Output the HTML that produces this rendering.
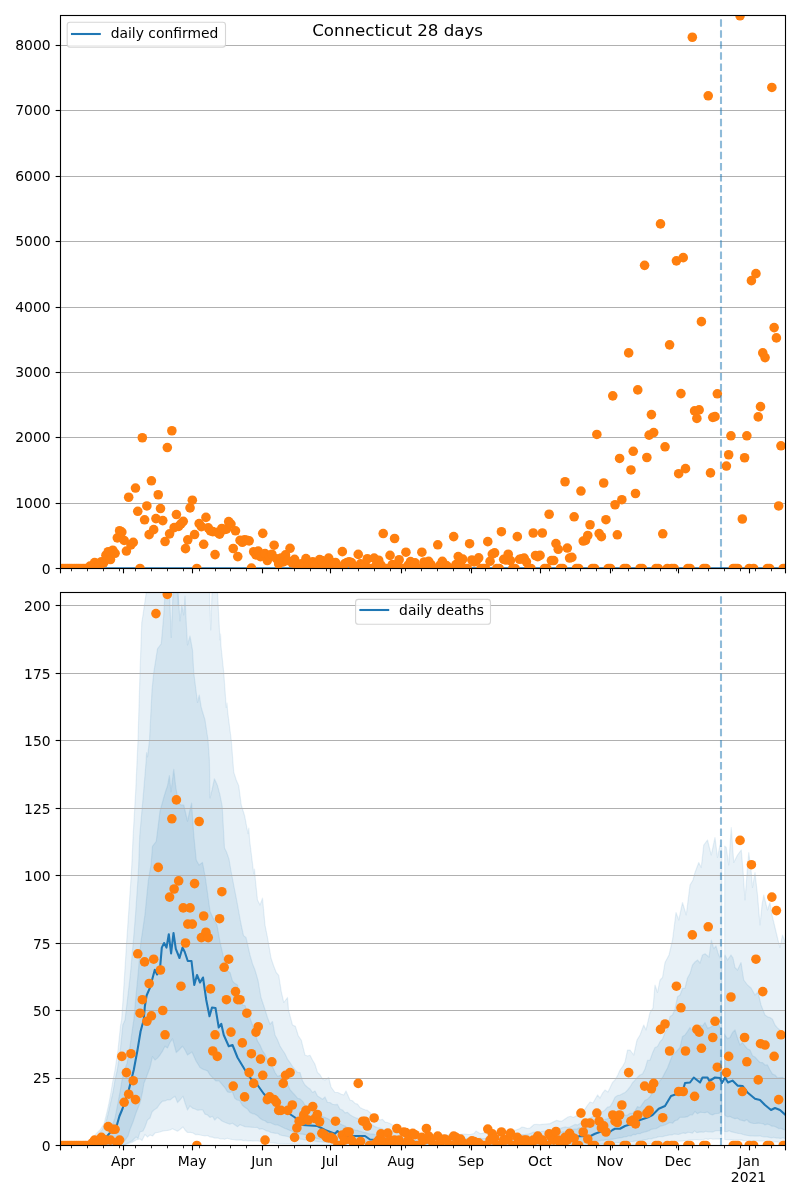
<!DOCTYPE html>
<html lang="en"><head><meta charset="utf-8"><title>Connecticut 28 days</title>
<style>html,body{margin:0;padding:0;background:#fff}svg{display:block}text{font-family:"DejaVu Sans","Liberation Sans",sans-serif;fill:#000}</style></head><body>
<svg width="800" height="1200" viewBox="0 0 800 1200">
<rect x="0" y="0" width="800" height="1200" fill="#fff"/>
<defs><clipPath id="ct"><rect x="60.5" y="15.5" width="725.0" height="553.0"/></clipPath><clipPath id="cb"><rect x="60.5" y="592.5" width="725.0" height="553.0"/></clipPath></defs>
<g clip-path="url(#cb)">
<polygon points="60.5,1145.5 62.79,1145.46 65.08,1145.41 67.38,1145.37 69.67,1145.34 71.96,1145.3 74.25,1145.25 76.54,1145.21 78.83,1145.18 81.12,1145.12 83.42,1145.08 85.71,1145.03 88,1145 90.33,1141.74 92.67,1138.33 95,1135 97.5,1132.52 100,1130 104,1124 107,1112 109,1103 111,1092 113,1080 115,1070 118,1050 120.6,1025 121.6,1020 123,1000 126.6,943 130.9,880 131.8,865 133.1,836 135.75,790 138,740 140,672.5 141.75,622.5 143,615 146.25,592.5 147.5,560 177,560 177.3,592 178,605 178.7,592 179,560 209.2,560 209.5,592 210.75,630 212,592 212.3,560 217,560 217.5,592.5 220,640 220.5,634 221,646 223.75,672.5 226.25,707.5 227,703 227.7,712 231.25,740 233.75,772.19 236.25,780 238.75,785.85 241.25,805 244.62,815.71 248,833.75 248.8,828 249.6,840 253.75,873.75 254.5,869 255.3,879 257.5,900 260,905 262.5,898.15 265,925.11 267.5,937.5 271,958 273.62,965.8 276.25,972.5 278.75,975.47 281.25,991.44 283.75,1002.5 287.5,997.5 288.5,1010 292.5,1025 295.42,1026.33 298.33,1035.85 301.25,1040 305,1055 307.5,1055.99 310,1055.21 312.5,1060 315,1064.32 317.5,1072.5 320,1074.68 322.5,1079.05 325,1080 328.75,1077.5 331,1087 335,1092.5 337.92,1092.52 340.83,1094.03 343.75,1095 346,1091 350,1100 352.5,1100.77 355,1103.43 357.5,1104.11 360,1107.5 362.5,1108.79 365,1109.75 367.5,1110.45 370,1112.5 372.5,1115.09 375,1116.5 377.5,1118.41 380,1120 382.5,1119.3 385,1122.05 387.5,1122.49 390,1123.53 392.5,1125 395,1126.12 397.5,1127.6 400,1127.41 402.5,1129.14 405,1130 407.27,1130.08 409.55,1131.31 411.82,1131.49 414.09,1131.22 416.36,1131.61 418.64,1133.08 420.91,1133.53 423.18,1133.65 425.45,1133.8 427.73,1134.48 430,1135 432.5,1134.83 435,1135.1 437.5,1134.59 440,1134.33 442.5,1134.79 445,1134.95 447.5,1134.74 450,1134.5 452.5,1134.12 455,1134.74 457.5,1134.27 460,1134.4 462.5,1134.11 465,1134 467.5,1134.31 470,1134.5 474,1133.5 476,1131 480,1133.6 482.5,1133.32 485,1132.4 487.5,1132.59 490,1132.5 492.5,1131.76 495,1132.29 497.5,1132.26 500,1132 502.29,1131.53 504.57,1132.08 506.86,1131.15 509.14,1130.78 511.43,1130.96 513.71,1130.04 516,1130 520,1128.5 522,1127 524.67,1127.55 527.33,1128.49 530,1128 534,1124.5 536.75,1124.47 539.5,1124.69 542.25,1124.36 545,1124 547.5,1123.87 550,1123.6 554,1121.6 556.67,1120.34 559.33,1121.11 562,1121 565,1119.02 568,1117 570.67,1116.27 573.33,1117.44 576,1116 579,1112.63 582,1112 584.5,1109.83 587,1106 590,1102 593,1103 597.5,1095 600,1098 602.5,1093.21 605,1090 608,1092 612.5,1082.5 615,1079.92 617.5,1075.63 620,1070 622.5,1066.66 625,1062 627.5,1050.06 630,1050 633.75,1055 637,1040 640,1035 643.75,1025 646,1030 650,1012.5 653,1008 655,985 657.5,992.5 660,980 662.5,977.5 665,962.5 669,955 672.5,940 676,912.5 678.75,920 682.5,902.5 686.25,915 690,885 693,880 695,872.5 698.75,862.5 701.25,867.5 703.75,845 707.5,840 711.25,855 715,837.5 717.5,857.5 720,845 721.7,848 721.7,1139 718.35,1139.05 715,1139 712.73,1139.27 710.45,1138.53 708.18,1139.39 705.91,1138.73 703.64,1139.5 701.36,1139.79 699.09,1139.8 696.82,1139.64 694.55,1139.52 692.27,1140.05 690,1140 687.73,1140.45 685.45,1140.49 683.18,1140.93 680.91,1141.06 678.64,1141.17 676.36,1141.38 674.09,1141.87 671.82,1142.03 669.55,1141.85 667.27,1141.94 665,1142.5 662.73,1142.67 660.45,1142.9 658.18,1143.27 655.91,1143.41 653.64,1143.56 651.36,1143.91 649.09,1143.99 646.82,1144.29 644.55,1144.5 642.27,1144.71 640,1145 637.71,1144.95 635.43,1145.03 633.14,1144.99 630.86,1144.98 628.57,1144.96 626.29,1144.99 624,1144.98 621.71,1145.02 619.43,1145 617.14,1144.97 614.86,1145.02 612.57,1144.98 610.29,1144.98 608,1144.98 605.71,1144.99 603.43,1144.95 601.14,1145 598.86,1144.97 596.57,1145.01 594.29,1145.01 592,1145 589.71,1145.04 587.43,1145.02 585.14,1144.99 582.86,1144.99 580.57,1144.99 578.29,1144.98 576,1145.02 573.71,1145 571.43,1145.01 569.14,1144.99 566.86,1145.02 564.57,1145.01 562.29,1144.95 560,1144.94 557.71,1144.98 555.43,1144.96 553.14,1145.01 550.86,1145 548.57,1145.02 546.29,1144.98 544,1145 541.71,1144.99 539.43,1144.98 537.14,1145.01 534.86,1145 532.57,1144.99 530.29,1145.01 528,1145 525.71,1144.99 523.43,1144.98 521.14,1145.02 518.86,1145.01 516.57,1145 514.29,1145.02 512,1145.02 509.71,1144.96 507.43,1145 505.14,1144.97 502.86,1145 500.57,1145.02 498.29,1144.93 496,1145 493.71,1145.04 491.43,1144.98 489.14,1144.96 486.86,1145 484.57,1144.98 482.29,1144.99 480,1144.99 477.71,1145 475.43,1144.96 473.14,1145.01 470.86,1145.01 468.57,1145 466.29,1144.98 464,1145 461.71,1145.01 459.43,1145.01 457.14,1145.02 454.86,1145.01 452.57,1144.99 450.29,1144.98 448,1144.97 445.71,1145.01 443.43,1145.01 441.14,1145 438.86,1145.01 436.57,1145.02 434.29,1144.97 432,1145.02 429.71,1144.96 427.43,1145.03 425.14,1145 422.86,1144.99 420.57,1144.97 418.29,1144.98 416,1144.98 413.71,1145.02 411.43,1145.02 409.14,1144.99 406.86,1144.97 404.57,1145 402.29,1144.98 400,1144.99 397.71,1145 395.43,1144.96 393.14,1144.98 390.86,1145.01 388.57,1144.99 386.29,1145 384,1144.98 381.71,1144.99 379.43,1144.95 377.14,1144.96 374.86,1144.94 372.57,1144.96 370.29,1144.98 368,1144.99 365.71,1144.97 363.43,1144.98 361.14,1145.03 358.86,1144.94 356.57,1144.98 354.29,1145.01 352,1144.99 349.71,1144.98 347.43,1144.97 345.14,1144.94 342.86,1144.99 340.57,1145.01 338.29,1145.01 336,1145.01 333.71,1145 331.43,1145.01 329.14,1144.98 326.86,1145.03 324.57,1144.98 322.29,1145 320,1145 317.65,1144.93 315.29,1144.86 312.94,1144.84 310.59,1144.68 308.24,1144.64 305.88,1144.6 303.53,1144.51 301.18,1144.41 298.82,1144.39 296.47,1144.28 294.12,1144.07 291.76,1144.14 289.41,1143.98 287.06,1143.99 284.71,1143.83 282.35,1143.86 280,1143.75 277.73,1143.51 275.45,1143.13 273.18,1142.98 270.91,1142.86 268.64,1142.52 266.36,1142.36 264.09,1142.26 261.82,1141.84 259.55,1141.28 257.27,1140.83 255,1141 252.68,1141.05 250.36,1140.68 248.04,1140.86 245.71,1140.31 243.39,1140.62 241.07,1139.94 238.75,1140.12 236.43,1140.04 234.11,1139.54 231.79,1139.42 229.46,1139.02 227.14,1138.22 224.82,1139.32 222.5,1138.75 220,1138.79 217.5,1137.85 215,1138.12 212.5,1137.15 210,1137.02 207.5,1135.47 205,1136.03 202.5,1135.52 200,1135 197.67,1134.43 195.33,1134.6 193,1133 190.25,1132.38 187.5,1132.5 185,1130 183,1127 180,1129.5 177.5,1131.25 175,1130 172.5,1128.75 170,1130 167.5,1130.43 165,1130.6 162.5,1131.11 160,1132 157.5,1132.49 155,1133 152.5,1136 150,1135 147.5,1137 145,1134.5 142,1140.5 140,1139 136,1140 132,1142.5 129.67,1143.28 127.33,1144.1 125,1144.8 122.69,1144.77 120.38,1144.9 118.06,1144.89 115.75,1144.94 113.44,1144.95 111.12,1144.98 108.81,1145.01 106.5,1145.06 104.19,1145.09 101.88,1145.08 99.56,1145.17 97.25,1145.18 94.94,1145.2 92.62,1145.25 90.31,1145.27 88,1145.3 85.71,1145.32 83.42,1145.34 81.12,1145.36 78.83,1145.37 76.54,1145.39 74.25,1145.41 71.96,1145.41 69.67,1145.43 67.38,1145.45 65.08,1145.47 62.79,1145.48 60.5,1145.5" fill="#1f77b4" fill-opacity="0.1" stroke="#1f77b4" stroke-opacity="0.1" stroke-width="1.2" stroke-linejoin="round"/>
<polygon points="724.7,846 726.25,847.5 728.75,865 731.25,827.5 733.75,862.5 737.5,855 741.25,850 743,870 745,900 746.5,880 748.75,852.5 751,870 752.5,887.5 755,872.5 757.5,895 760,925 762,905 763.75,895 767.5,910 770,902.5 772,915 775,927.5 778,940 780,947.5 782.5,935 785.5,942.5 785.5,1142.5 783.16,1142.33 780.82,1142.5 778.48,1142.18 776.15,1141.77 773.81,1141.99 771.47,1141.89 769.13,1141.65 766.79,1141.8 764.45,1141.25 762.12,1140.8 759.78,1141.1 757.44,1141.01 755.1,1140.94 752.76,1140.92 750.42,1140.9 748.08,1140.78 745.75,1140.52 743.41,1140.58 741.07,1139.82 738.73,1140.06 736.39,1139.78 734.05,1139.84 731.72,1139.94 729.38,1139.57 727.04,1139.6 724.7,1139.5" fill="#1f77b4" fill-opacity="0.1" stroke="#1f77b4" stroke-opacity="0.1" stroke-width="1.2" stroke-linejoin="round"/>
<polygon points="60.5,1145.5 62.92,1145.48 65.35,1145.45 67.77,1145.43 70.19,1145.41 72.62,1145.38 75.04,1145.37 77.46,1145.33 79.88,1145.31 82.31,1145.28 84.73,1145.27 87.15,1145.24 89.58,1145.22 92,1145.2 95,1140.17 98,1135 102,1130 105.5,1124 108.5,1112 110.5,1103 113,1092 115,1080 117.3,1070 120.3,1050 122.8,1025 125,1020 127.4,1000 130.3,975 133.2,943 135.5,915 137.9,880 138.7,865 139.7,836 143.75,790 146.2,760 146.6,752.5 147.5,757 149.5,740 152,690 153.75,672.5 157.5,648.75 161.25,643.75 163.75,615 165,592.5 165.5,560 169.3,560 169.5,592.5 171.25,637.5 173,592.5 173.2,560 177.8,560 178,592.5 180,621 181.75,605 183.75,615 185,596 186.25,622.5 187.5,645 190,636 192.5,650 193.75,672.5 197.5,702.5 199.25,695 201.25,707.5 205,720 208,740 209.4,760 210,798 212,790 214.4,778.75 217.5,785.6 219.85,794.4 222.2,806.25 223.5,830 224.5,848 226.5,852 229,859 231,871 233.5,884 237,902 241,924 243.5,935.61 246,937.5 250,955 252.5,963.67 255,970 258,980.37 261,997.5 264.25,1007.26 267.5,1017.5 270,1024.24 272.5,1021.53 275,1035 277.5,1039.82 280,1046.06 282.5,1050 285,1053.73 287.5,1059.15 290,1062.5 292.5,1066.39 295,1069.65 297.5,1072.5 300,1072.48 302.5,1080.79 305,1085 307.5,1087.19 310,1088.88 312.5,1092.5 315,1091.06 317.5,1096.03 320,1097.5 322.5,1099.27 325,1097 327.5,1102.41 330,1102.5 332.5,1104.27 335,1104.7 337.5,1104.46 340,1109.13 342.5,1110 345,1112.85 347.5,1112.35 350,1114.79 352.5,1116.21 355,1117.5 357.5,1118.38 360,1119.83 362.5,1121.04 365,1122.68 367.5,1122.91 370,1125 372.5,1124.95 375,1126.65 377.5,1127.65 380,1127.96 382.5,1128.93 385,1130 387.5,1130.9 390,1131.37 392.5,1131.45 395,1132.52 397.5,1133.2 400,1133.68 402.5,1134.38 405,1135 407.27,1135.27 409.55,1135.89 411.82,1135.31 414.09,1136.03 416.36,1136.51 418.64,1136.38 420.91,1136.83 423.18,1137.18 425.45,1137.2 427.73,1137.21 430,1138 432.35,1137.91 434.71,1137.7 437.06,1137.61 439.41,1138.25 441.76,1138.22 444.12,1138.01 446.47,1138.43 448.82,1138.27 451.18,1137.98 453.53,1138.07 455.88,1138.2 458.24,1138.6 460.59,1137.91 462.94,1138.29 465.29,1138.28 467.65,1138.37 470,1138.5 472.5,1138.72 475,1138.68 477.5,1138.65 480,1138.1 482.5,1138.6 485,1138.5 487.5,1138.36 490,1138.2 492.5,1137.87 495,1137.72 497.5,1137.6 500,1137.5 502.5,1137.38 505,1137.22 507.5,1136.52 510,1136.18 512.5,1135.58 515,1135.64 517.5,1135.42 520,1135 522.27,1134.5 524.55,1134.59 526.82,1134.13 529.09,1133.76 531.36,1133.08 533.64,1132.02 535.91,1132.16 538.18,1131.63 540.45,1131.63 542.73,1131.25 545,1131 547.27,1130.76 549.55,1130.35 551.82,1130.53 554.09,1129.89 556.36,1129.56 558.64,1128.4 560.91,1128.12 563.18,1127.49 565.45,1126.9 567.73,1127.46 570,1127 572.5,1125.69 575,1124.43 577.5,1124.9 580,1123.51 582.5,1123.5 585,1121.74 587.5,1120.58 590,1118 592.5,1116.65 595,1115.5 597.5,1114.59 600,1112.64 602.5,1111.66 605,1110 607.5,1107.14 610,1106.56 612.5,1102.5 615,1097.16 617.5,1095.54 620,1095 622.5,1093.66 625,1092.55 627.5,1090 630,1086.99 632.5,1082.75 635,1080.18 637.5,1077.19 640,1075 642.5,1073.88 645,1069.09 647.5,1060.45 650,1060 652.5,1053.09 655,1047.5 657.5,1046.54 660,1041.65 662.5,1039.1 665,1032.5 667.5,1028.85 670,1016.42 672.5,1015 675,1008.88 677.5,996.78 680,995 682.5,988.44 685,988.1 687.5,978 690,973.56 692.5,965 695,962 697.5,960 700,963 702.5,955 705,953.75 709,957 711.38,940.16 713.75,948.75 716,946 718,953 720,958 721.7,958 721.7,1131 718.35,1130.48 715,1131 712.73,1132.08 710.45,1131.85 708.18,1131.79 705.91,1131.32 703.64,1132.27 701.36,1131.94 699.09,1132.14 696.82,1132.65 694.55,1130.85 692.27,1133.23 690,1132.5 687.73,1132.35 685.45,1133.43 683.18,1132.96 680.91,1133.58 678.64,1134.52 676.36,1134.25 674.09,1134.03 671.82,1135 669.55,1134.99 667.27,1135.46 665,1136 662.73,1136.61 660.45,1136.53 658.18,1136.85 655.91,1137.73 653.64,1138.11 651.36,1138.84 649.09,1138.85 646.82,1139.41 644.55,1139.91 642.27,1140.43 640,1141 637.65,1141.13 635.29,1141.1 632.94,1141.42 630.59,1141.5 628.24,1141.88 625.88,1142.1 623.53,1142.27 621.18,1142.51 618.82,1142.63 616.47,1142.77 614.12,1142.9 611.76,1143.13 609.41,1143.33 607.06,1143.32 604.71,1143.65 602.35,1143.68 600,1144 597.73,1143.99 595.45,1144.02 593.18,1144.01 590.91,1143.98 588.64,1144.07 586.36,1144.07 584.09,1143.97 581.82,1143.93 579.55,1144.06 577.27,1144.04 575,1144.07 572.73,1143.99 570.45,1144.1 568.18,1144.04 565.91,1144.09 563.64,1144.06 561.36,1144.1 559.09,1144.05 556.82,1144.06 554.55,1144 552.27,1144.01 550,1144.14 547.73,1144.17 545.45,1144.12 543.18,1144.17 540.91,1144.09 538.64,1144.03 536.36,1144.05 534.09,1144.23 531.82,1144.19 529.55,1144.2 527.27,1144.13 525,1144.23 522.73,1144.07 520.45,1144.15 518.18,1144.13 515.91,1144.12 513.64,1144.13 511.36,1144.26 509.09,1144.27 506.82,1144.2 504.55,1144.32 502.27,1144.19 500,1144.18 497.73,1144.27 495.45,1144.27 493.18,1144.28 490.91,1144.29 488.64,1144.21 486.36,1144.23 484.09,1144.26 481.82,1144.25 479.55,1144.3 477.27,1144.35 475,1144.38 472.73,1144.3 470.45,1144.35 468.18,1144.36 465.91,1144.21 463.64,1144.29 461.36,1144.36 459.09,1144.34 456.82,1144.26 454.55,1144.42 452.27,1144.31 450,1144.31 447.73,1144.36 445.45,1144.29 443.18,1144.39 440.91,1144.41 438.64,1144.4 436.36,1144.41 434.09,1144.49 431.82,1144.39 429.55,1144.39 427.27,1144.46 425,1144.45 422.73,1144.47 420.45,1144.46 418.18,1144.41 415.91,1144.53 413.64,1144.51 411.36,1144.5 409.09,1144.46 406.82,1144.45 404.55,1144.51 402.27,1144.49 400,1144.5 397.67,1144.47 395.33,1144.34 393,1144.35 390.67,1144.33 388.33,1144.19 386,1144.13 383.67,1144.15 381.33,1144.05 379,1144.15 376.67,1143.96 374.33,1143.97 372,1143.83 369.67,1143.77 367.33,1143.78 365,1143.74 362.67,1143.69 360.33,1143.75 358,1143.64 355.67,1143.55 353.33,1143.48 351,1143.47 348.67,1143.37 346.33,1143.45 344,1143.38 341.67,1143.21 339.33,1143.13 337,1143.28 334.67,1143.23 332.33,1143.12 330,1143 327.73,1142.75 325.45,1142.14 323.18,1142.19 320.91,1141.78 318.64,1141.75 316.36,1141.37 314.09,1141.01 311.82,1140.59 309.55,1140 307.27,1139.7 305,1140 302.73,1139.34 300.45,1139.23 298.18,1138.76 295.91,1138.32 293.64,1137 291.36,1137.54 289.09,1136.87 286.82,1136.35 284.55,1135.95 282.27,1135.47 280,1135 277.73,1133.23 275.45,1133.34 273.18,1132.92 270.91,1132.49 268.64,1131.17 266.36,1131.02 264.09,1129.47 261.82,1128.67 259.55,1129.28 257.27,1127.41 255,1127.5 252.5,1127.31 250,1127.08 247.5,1126.85 245,1126.64 242.5,1125.77 240,1124.7 237.5,1126.64 235,1125 232.4,1123.2 229.8,1124.21 227.2,1123.25 224.6,1122.26 222,1121 219.6,1119.02 217.2,1117.29 214.8,1120.09 212.4,1116.3 210,1117.5 207.5,1114.96 205,1114.13 202.5,1109.74 200,1110 197.5,1110.17 195,1109 192.5,1108.13 190,1106 187.5,1110 185,1103 183,1096.25 180,1100 177.5,1102.5 175,1096.25 172.5,1098 170,1100 167.5,1099.67 165,1101 162.5,1101.19 160,1103.75 157,1108.06 154,1110 152,1112 150,1118 147.5,1120 145,1127 143,1131 140,1132 138,1138.5 136,1137 132,1141 129.67,1142.11 127.33,1143.23 125,1144.5 122.64,1144.49 120.29,1144.63 117.93,1144.65 115.57,1144.76 113.21,1144.77 110.86,1144.86 108.5,1144.89 106.14,1144.92 103.79,1145 101.43,1145.08 99.07,1145.14 96.71,1145.2 94.36,1145.24 92,1145.3 89.58,1145.3 87.15,1145.33 84.73,1145.34 82.31,1145.37 79.88,1145.37 77.46,1145.4 75.04,1145.41 72.62,1145.42 70.19,1145.44 67.77,1145.45 65.35,1145.47 62.92,1145.48 60.5,1145.5" fill="#1f77b4" fill-opacity="0.1" stroke="#1f77b4" stroke-opacity="0.1" stroke-width="1.2" stroke-linejoin="round"/>
<polygon points="724.7,957 725,955 727.5,960 731,955 733,958 735,967.5 737.5,970 741,962.5 743.75,980 747.5,985 751,988 755,995 758,992 761,1005 765,1015 767.5,1016.85 770,1017.5 772.5,1019.34 775,1025 777.5,1027.98 780,1030 782.75,1033.14 785.5,1035 785.5,1138.75 783.14,1137.79 780.79,1138.39 778.43,1138.04 776.07,1138.04 773.71,1137.31 771.36,1138 769,1137.33 766.64,1136.85 764.29,1136.82 761.93,1136.52 759.57,1135.8 757.21,1136.09 754.86,1136.04 752.5,1136 750.18,1135.96 747.87,1135.52 745.55,1135.1 743.23,1134.5 740.92,1133.74 738.6,1133.52 736.28,1132.98 733.97,1132.3 731.65,1131.92 729.33,1130.79 727.02,1131.62 724.7,1131.5" fill="#1f77b4" fill-opacity="0.1" stroke="#1f77b4" stroke-opacity="0.1" stroke-width="1.2" stroke-linejoin="round"/>
<polygon points="60.5,1145.5 62.82,1145.48 65.15,1145.46 67.47,1145.45 69.79,1145.43 72.12,1145.41 74.44,1145.39 76.76,1145.38 79.09,1145.36 81.41,1145.34 83.74,1145.33 86.06,1145.3 88.38,1145.29 90.71,1145.27 93.03,1145.26 95.35,1145.24 97.68,1145.22 100,1145.2 102.67,1141.46 105.33,1137.62 108,1134 111,1129 115,1118 118.5,1100 120,1092 122,1080 124.5,1070 127,1063.39 129.5,1050 133,1025 133.8,1020 135.6,1000 138,975 140.8,943 144.9,915 148.4,880 151,865 152.5,846.25 156.25,841.25 160,811.25 163.75,797.5 166,790 167.5,786 169.4,775.6 171,792 173.75,769.4 175.5,785 176.25,790 178.75,803.75 181.25,804.92 183.75,805 187.5,821.25 189.5,812 191.6,803.1 192.7,820 193.75,835 196.25,860 199,865 202.5,862.5 205.3,877.5 207.5,893 210,911.25 213,918 217,925 220,942 223,955 226,970 230,972.5 232.5,981.09 235,983.58 237.5,985 240,998.34 242.5,1005 245,1005.51 247.5,1012.39 250,1018.14 252.5,1025 255,1033.18 257.5,1041.09 260,1045 262.5,1050.65 265,1054.45 267.5,1060 270,1064.27 272.5,1066.75 275,1072.5 277.5,1076.28 280,1075.61 282.5,1082.5 285,1083.82 287.5,1084.05 290,1089.59 292.5,1092.5 295,1095.21 297.5,1098.23 300,1098.9 302.5,1101.16 305,1105 307.5,1106.32 310,1107.54 312.5,1109.68 315,1111.26 317.5,1112.5 320,1114.16 322.5,1116.51 325,1117.52 327.5,1118.47 330,1120 332.5,1120.91 335,1121.24 337.5,1122.58 340,1123.73 342.5,1125 345,1125.97 347.5,1127.73 350,1127.98 352.5,1129.26 355,1130 357.27,1130.33 359.55,1131.16 361.82,1131.72 364.09,1132.31 366.36,1132.8 368.64,1133.7 370.91,1134.15 373.18,1133.96 375.45,1134.77 377.73,1135.54 380,1136 382.27,1136.42 384.55,1136.79 386.82,1136.54 389.09,1137.33 391.36,1137.82 393.64,1138.27 395.91,1138.82 398.18,1138.89 400.45,1139.02 402.73,1139.47 405,1140 407.27,1140.14 409.55,1140.42 411.82,1140.65 414.09,1140.72 416.36,1140.94 418.64,1141.18 420.91,1141.07 423.18,1141.52 425.45,1141.67 427.73,1141.96 430,1142 432.27,1141.87 434.55,1142.1 436.82,1142.14 439.09,1142.15 441.36,1142.28 443.64,1142.31 445.91,1142.29 448.18,1142.41 450.45,1142.38 452.73,1142.35 455,1142.43 457.27,1142.42 459.55,1142.5 461.82,1142.49 464.09,1142.66 466.36,1142.69 468.64,1142.83 470.91,1142.83 473.18,1142.9 475.45,1142.91 477.73,1143 480,1143 482.27,1142.84 484.55,1142.54 486.82,1142.63 489.09,1142.4 491.36,1142.26 493.64,1142.23 495.91,1142.06 498.18,1141.94 500.45,1141.72 502.73,1141.68 505,1141.24 507.27,1141.26 509.55,1141.08 511.82,1140.81 514.09,1140.77 516.36,1140.83 518.64,1140.63 520.91,1140.54 523.18,1140.37 525.45,1140.12 527.73,1140.33 530,1140 532.5,1139.56 535,1138.79 537.5,1138.03 540,1137.57 542.5,1136.91 545,1135.95 547.5,1135.43 550,1135 552.5,1134.4 555,1133.82 557.5,1133.46 560,1132.32 562.5,1131.84 565,1131.5 567.5,1130.42 570,1130 572.27,1129.66 574.55,1129.2 576.82,1129.15 579.09,1127.74 581.36,1127.98 583.64,1127.13 585.91,1126.72 588.18,1126.57 590.45,1125.95 592.73,1125.56 595,1125 597.5,1123.87 600,1122.41 602.5,1121.55 605,1119.53 607.5,1118.71 610,1117.5 612.5,1116.9 615,1114.69 617.5,1114.02 620,1112.5 622.5,1112.95 625,1115.41 627.5,1115 630,1113.24 632.5,1113.33 635,1110.83 637.5,1106.59 640,1107.5 642.5,1103.8 645,1100.23 647.5,1099.18 650,1096.6 652.5,1092.5 655,1088.69 657.5,1083.93 660,1080.73 662.5,1077.47 665,1072.5 667.5,1068.05 670,1061.59 672.5,1055 676,1052 680,1047.5 682.5,1036.47 685,1035 687.5,1031.43 690,1027.5 692.5,1030.95 695,1032.5 697.5,1029.47 700,1025 702.5,1026.04 705,1022.5 707.5,1028.08 710,1027.5 712.5,1025.94 715,1025 717.5,1021.65 720,1027.5 721.7,1028 721.7,1112.5 718.35,1113.33 715,1113.75 712.5,1114.88 710,1114.08 707.5,1112.02 705,1112.66 702.5,1112.5 700,1112.13 697.5,1113.74 695,1111.49 692.5,1114.85 690,1115 687.5,1116.69 685,1117.13 682.5,1117.32 680,1117.28 677.5,1120 675,1120.7 672.5,1123.24 670,1122.47 667.5,1123.66 665,1125 662.73,1125.62 660.45,1126.12 658.18,1127.44 655.91,1128.75 653.64,1129.01 651.36,1129.28 649.09,1130.72 646.82,1131.42 644.55,1132.11 642.27,1132.57 640,1133.75 637.73,1133.4 635.45,1134.68 633.18,1134.45 630.91,1136.09 628.64,1135.76 626.36,1136.69 624.09,1136.82 621.82,1137.67 619.55,1137.95 617.27,1138.25 615,1138.75 612.73,1139.22 610.45,1139.31 608.18,1139.79 605.91,1139.63 603.64,1140.34 601.36,1140.31 599.09,1140.83 596.82,1141.12 594.55,1141.53 592.27,1141.48 590,1142 587.69,1142.18 585.38,1142.42 583.08,1142.45 580.77,1142.49 578.46,1142.77 576.15,1142.9 573.85,1143.05 571.54,1143.19 569.23,1143.3 566.92,1143.59 564.62,1143.62 562.31,1143.9 560,1144 557.71,1144.06 555.43,1144.02 553.14,1144.02 550.86,1143.94 548.57,1144.03 546.29,1144.01 544,1144.03 541.71,1143.96 539.43,1144.05 537.14,1144.04 534.86,1144.01 532.57,1143.98 530.29,1144.06 528,1144 525.71,1143.87 523.43,1143.97 521.14,1143.99 518.86,1143.98 516.57,1143.97 514.29,1143.95 512,1143.98 509.71,1144.05 507.43,1144.07 505.14,1144.02 502.86,1144.01 500.57,1144 498.29,1143.95 496,1144.08 493.71,1143.98 491.43,1143.96 489.14,1143.87 486.86,1144.07 484.57,1144.01 482.29,1143.95 480,1144.07 477.71,1144.08 475.43,1143.95 473.14,1144.04 470.86,1143.97 468.57,1144.04 466.29,1144.03 464,1144.04 461.71,1144.04 459.43,1143.96 457.14,1143.97 454.86,1144.06 452.57,1144.05 450.29,1144.04 448,1144.01 445.71,1144.08 443.43,1144.01 441.14,1144 438.86,1144.04 436.57,1143.98 434.29,1144.04 432,1144 429.71,1143.93 427.43,1143.96 425.14,1143.95 422.86,1143.99 420.57,1143.97 418.29,1144 416,1143.93 413.71,1143.99 411.43,1144.01 409.14,1143.94 406.86,1144.08 404.57,1144 402.29,1144.02 400,1144 397.7,1143.96 395.4,1143.92 393.1,1143.78 390.8,1143.8 388.5,1143.69 386.2,1143.69 383.9,1143.59 381.6,1143.53 379.3,1143.49 377,1143.31 374.7,1143.23 372.4,1143.27 370.1,1143.28 367.8,1143.06 365.5,1143.13 363.2,1143.09 360.9,1142.93 358.6,1142.82 356.3,1142.78 354,1142.83 351.7,1142.73 349.4,1142.5 347.1,1142.52 344.8,1142.6 342.5,1142.5 340.23,1142.25 337.95,1141.79 335.68,1141.62 333.41,1141.25 331.14,1140.76 328.86,1140.52 326.59,1140.02 324.32,1139.72 322.05,1139.1 319.77,1139.12 317.5,1138.75 315,1137.94 312.5,1137.49 310,1136.74 307.5,1135.59 305,1134.64 302.5,1134.19 300,1134.01 297.5,1133.16 295,1132.5 292.5,1131.52 290,1130.48 287.5,1129.4 285,1128.53 282.5,1127.28 280,1126 277.5,1124.86 275,1124.81 272.5,1123.79 270,1122.54 267.5,1122.77 265,1120.72 262.5,1120 260,1118.37 257.5,1115.74 255,1114.15 252.5,1113.62 250,1112.44 247.5,1109.08 245,1107.5 242.33,1105.33 239.67,1100.5 237,1100 234.67,1098.07 232.33,1091.78 230,1092.5 227.5,1091.9 225,1087.93 222.5,1085 219.25,1081.02 216,1081 213,1077.96 210,1075 207.5,1070.93 205,1070 202.5,1069.11 200,1067.5 196,1061 192,1052 187.5,1055 185,1050 182.5,1046.25 179,1050 176.25,1052.5 174.5,1046 172.5,1038.75 170,1042.5 167.5,1048 165,1046.25 162.5,1051.14 160,1055 157.5,1058.12 155,1060 152.5,1056.56 150,1067.5 146.5,1077 144,1083 142.5,1092 140,1103 136,1113 133,1122 130.5,1128.16 128,1136 123.75,1142 120.83,1142.54 117.92,1143.4 115,1144 112.5,1144.23 110,1144.46 107.5,1144.66 105,1144.85 102.5,1145.09 100,1145.3 97.68,1145.32 95.35,1145.32 93.03,1145.34 90.71,1145.35 88.38,1145.35 86.06,1145.37 83.74,1145.38 81.41,1145.4 79.09,1145.41 76.76,1145.42 74.44,1145.43 72.12,1145.44 69.79,1145.45 67.47,1145.47 65.15,1145.48 62.82,1145.49 60.5,1145.5" fill="#1f77b4" fill-opacity="0.1" stroke="#1f77b4" stroke-opacity="0.1" stroke-width="1.2" stroke-linejoin="round"/>
<polygon points="724.7,1034 725,1035 727.5,1038.66 730,1037.5 732.5,1032.48 735,1030 737.5,1038 740,1045 742.5,1042.52 745,1046 747.5,1048.9 750,1050 752.5,1055.7 755,1057 757.5,1059.85 760,1062.5 762.5,1062.58 765,1065 767.5,1064.93 770,1070 772.5,1074.1 775,1075 777.5,1077.86 780,1077.5 782.75,1077.34 785.5,1080 785.5,1130 783.22,1129.38 780.94,1128.31 778.67,1128.55 776.39,1127.29 774.11,1126.23 771.83,1126.16 769.56,1124.77 767.28,1124.08 765,1125 762.73,1123.59 760.45,1123.36 758.18,1123.06 755.91,1123.46 753.64,1123.48 751.36,1122.98 749.09,1122.1 746.82,1119.62 744.55,1121.07 742.27,1120.39 740,1120 737.45,1118.15 734.9,1118.65 732.35,1117.69 729.8,1116.4 727.25,1116.86 724.7,1115" fill="#1f77b4" fill-opacity="0.1" stroke="#1f77b4" stroke-opacity="0.1" stroke-width="1.2" stroke-linejoin="round"/>
</g>
<g stroke="#b0b0b0" stroke-width="1.11" fill="none">
<line x1="60.5" y1="503.5" x2="785.5" y2="503.5"/>
<line x1="60.5" y1="437.5" x2="785.5" y2="437.5"/>
<line x1="60.5" y1="372.5" x2="785.5" y2="372.5"/>
<line x1="60.5" y1="307.5" x2="785.5" y2="307.5"/>
<line x1="60.5" y1="241.5" x2="785.5" y2="241.5"/>
<line x1="60.5" y1="176.5" x2="785.5" y2="176.5"/>
<line x1="60.5" y1="110.5" x2="785.5" y2="110.5"/>
<line x1="60.5" y1="45.5" x2="785.5" y2="45.5"/>
<line x1="60.5" y1="1078.5" x2="785.5" y2="1078.5"/>
<line x1="60.5" y1="1010.5" x2="785.5" y2="1010.5"/>
<line x1="60.5" y1="943.5" x2="785.5" y2="943.5"/>
<line x1="60.5" y1="875.5" x2="785.5" y2="875.5"/>
<line x1="60.5" y1="808.5" x2="785.5" y2="808.5"/>
<line x1="60.5" y1="740.5" x2="785.5" y2="740.5"/>
<line x1="60.5" y1="673.5" x2="785.5" y2="673.5"/>
<line x1="60.5" y1="605.5" x2="785.5" y2="605.5"/>
</g>
<g clip-path="url(#ct)">
<line x1="60.5" y1="568.2" x2="785.5" y2="568.2" stroke="#1f77b4" stroke-width="2.08"/>
<g fill="#ff7f0e">
<circle cx="60.5" cy="568.5" r="4.8"/>
<circle cx="62.77" cy="568.5" r="4.8"/>
<circle cx="65.05" cy="568.5" r="4.8"/>
<circle cx="67.32" cy="568.5" r="4.8"/>
<circle cx="69.59" cy="568.5" r="4.8"/>
<circle cx="71.86" cy="568.5" r="4.8"/>
<circle cx="74.14" cy="568.5" r="4.8"/>
<circle cx="76.41" cy="568.5" r="4.8"/>
<circle cx="78.68" cy="568.5" r="4.8"/>
<circle cx="80.95" cy="568.5" r="4.8"/>
<circle cx="83.23" cy="568.5" r="4.8"/>
<circle cx="85.5" cy="568.5" r="4.8"/>
<circle cx="87.77" cy="568.5" r="4.8"/>
<circle cx="90.05" cy="566.02" r="4.8"/>
<circle cx="92.32" cy="568.5" r="4.8"/>
<circle cx="94.59" cy="562.55" r="4.8"/>
<circle cx="96.86" cy="566.21" r="4.8"/>
<circle cx="99.14" cy="566.6" r="4.8"/>
<circle cx="101.41" cy="561.7" r="4.8"/>
<circle cx="103.68" cy="562.75" r="4.8"/>
<circle cx="105.95" cy="555.23" r="4.8"/>
<circle cx="108.23" cy="551.7" r="4.8"/>
<circle cx="110.5" cy="559.54" r="4.8"/>
<circle cx="112.77" cy="550.26" r="4.8"/>
<circle cx="115.05" cy="553.27" r="4.8"/>
<circle cx="117.32" cy="537.84" r="4.8"/>
<circle cx="119.59" cy="530.71" r="4.8"/>
<circle cx="121.86" cy="532.09" r="4.8"/>
<circle cx="124.14" cy="540.45" r="4.8"/>
<circle cx="126.41" cy="551.04" r="4.8"/>
<circle cx="128.68" cy="497.24" r="4.8"/>
<circle cx="130.95" cy="544.83" r="4.8"/>
<circle cx="133.23" cy="542.42" r="4.8"/>
<circle cx="135.5" cy="488.02" r="4.8"/>
<circle cx="137.77" cy="511.3" r="4.8"/>
<circle cx="140.05" cy="568.5" r="4.8"/>
<circle cx="142.32" cy="437.75" r="4.8"/>
<circle cx="144.59" cy="519.8" r="4.8"/>
<circle cx="146.86" cy="505.94" r="4.8"/>
<circle cx="149.14" cy="534.64" r="4.8"/>
<circle cx="151.41" cy="480.77" r="4.8"/>
<circle cx="153.68" cy="529.67" r="4.8"/>
<circle cx="155.95" cy="518.62" r="4.8"/>
<circle cx="158.23" cy="494.76" r="4.8"/>
<circle cx="160.5" cy="508.55" r="4.8"/>
<circle cx="162.77" cy="520.58" r="4.8"/>
<circle cx="165.05" cy="541.57" r="4.8"/>
<circle cx="167.32" cy="447.56" r="4.8"/>
<circle cx="169.59" cy="533.85" r="4.8"/>
<circle cx="171.86" cy="430.75" r="4.8"/>
<circle cx="174.14" cy="527.64" r="4.8"/>
<circle cx="176.41" cy="514.57" r="4.8"/>
<circle cx="178.68" cy="526.33" r="4.8"/>
<circle cx="180.95" cy="523.91" r="4.8"/>
<circle cx="183.23" cy="521.36" r="4.8"/>
<circle cx="185.5" cy="548.63" r="4.8"/>
<circle cx="187.77" cy="539.87" r="4.8"/>
<circle cx="190.05" cy="507.83" r="4.8"/>
<circle cx="192.32" cy="500.18" r="4.8"/>
<circle cx="194.59" cy="534.57" r="4.8"/>
<circle cx="196.86" cy="568.5" r="4.8"/>
<circle cx="199.14" cy="523.52" r="4.8"/>
<circle cx="201.41" cy="526.66" r="4.8"/>
<circle cx="203.68" cy="544.31" r="4.8"/>
<circle cx="205.95" cy="517.38" r="4.8"/>
<circle cx="208.23" cy="527.84" r="4.8"/>
<circle cx="210.5" cy="530.97" r="4.8"/>
<circle cx="212.77" cy="531.63" r="4.8"/>
<circle cx="215.05" cy="554.58" r="4.8"/>
<circle cx="217.32" cy="532.28" r="4.8"/>
<circle cx="219.59" cy="534.11" r="4.8"/>
<circle cx="221.86" cy="528.49" r="4.8"/>
<circle cx="224.14" cy="529.73" r="4.8"/>
<circle cx="226.41" cy="529.14" r="4.8"/>
<circle cx="228.68" cy="521.63" r="4.8"/>
<circle cx="230.95" cy="524.11" r="4.8"/>
<circle cx="233.23" cy="548.5" r="4.8"/>
<circle cx="235.5" cy="530.78" r="4.8"/>
<circle cx="237.77" cy="556.6" r="4.8"/>
<circle cx="240.05" cy="540.39" r="4.8"/>
<circle cx="242.32" cy="542.28" r="4.8"/>
<circle cx="244.59" cy="539.74" r="4.8"/>
<circle cx="246.86" cy="540.39" r="4.8"/>
<circle cx="249.14" cy="540.85" r="4.8"/>
<circle cx="251.41" cy="568.17" r="4.8"/>
<circle cx="253.68" cy="551.76" r="4.8"/>
<circle cx="255.95" cy="554.9" r="4.8"/>
<circle cx="258.23" cy="551.11" r="4.8"/>
<circle cx="260.5" cy="556.73" r="4.8"/>
<circle cx="262.77" cy="533.33" r="4.8"/>
<circle cx="265.05" cy="553.59" r="4.8"/>
<circle cx="267.32" cy="560.52" r="4.8"/>
<circle cx="269.59" cy="556.73" r="4.8"/>
<circle cx="271.86" cy="554.25" r="4.8"/>
<circle cx="274.14" cy="545.23" r="4.8"/>
<circle cx="276.41" cy="558.69" r="4.8"/>
<circle cx="278.68" cy="563.92" r="4.8"/>
<circle cx="280.95" cy="558.04" r="4.8"/>
<circle cx="283.23" cy="561.96" r="4.8"/>
<circle cx="285.5" cy="554.9" r="4.8"/>
<circle cx="287.77" cy="560.52" r="4.8"/>
<circle cx="290.05" cy="548.3" r="4.8"/>
<circle cx="292.32" cy="563.01" r="4.8"/>
<circle cx="294.59" cy="559.35" r="4.8"/>
<circle cx="296.86" cy="564.58" r="4.8"/>
<circle cx="299.14" cy="565.88" r="4.8"/>
<circle cx="301.41" cy="563.92" r="4.8"/>
<circle cx="303.68" cy="565.23" r="4.8"/>
<circle cx="305.95" cy="558.63" r="4.8"/>
<circle cx="308.23" cy="564.58" r="4.8"/>
<circle cx="310.5" cy="565.88" r="4.8"/>
<circle cx="312.77" cy="561.7" r="4.8"/>
<circle cx="315.05" cy="565.23" r="4.8"/>
<circle cx="317.32" cy="563.92" r="4.8"/>
<circle cx="319.59" cy="559.54" r="4.8"/>
<circle cx="321.86" cy="560.65" r="4.8"/>
<circle cx="324.14" cy="565.88" r="4.8"/>
<circle cx="326.41" cy="564.58" r="4.8"/>
<circle cx="328.68" cy="558.17" r="4.8"/>
<circle cx="330.95" cy="561.96" r="4.8"/>
<circle cx="333.23" cy="564.58" r="4.8"/>
<circle cx="335.5" cy="562.49" r="4.8"/>
<circle cx="337.77" cy="567.19" r="4.8"/>
<circle cx="340.05" cy="567.85" r="4.8"/>
<circle cx="342.32" cy="551.63" r="4.8"/>
<circle cx="344.59" cy="563.92" r="4.8"/>
<circle cx="346.86" cy="562.62" r="4.8"/>
<circle cx="349.14" cy="561.77" r="4.8"/>
<circle cx="351.41" cy="562.62" r="4.8"/>
<circle cx="353.68" cy="568.5" r="4.8"/>
<circle cx="355.95" cy="568.5" r="4.8"/>
<circle cx="358.23" cy="554.38" r="4.8"/>
<circle cx="360.5" cy="563.92" r="4.8"/>
<circle cx="362.77" cy="565.23" r="4.8"/>
<circle cx="365.05" cy="563.92" r="4.8"/>
<circle cx="367.32" cy="558.76" r="4.8"/>
<circle cx="369.59" cy="568.5" r="4.8"/>
<circle cx="371.86" cy="568.5" r="4.8"/>
<circle cx="374.14" cy="558.04" r="4.8"/>
<circle cx="376.41" cy="564.58" r="4.8"/>
<circle cx="378.68" cy="560.26" r="4.8"/>
<circle cx="380.95" cy="565.23" r="4.8"/>
<circle cx="383.23" cy="533.52" r="4.8"/>
<circle cx="385.5" cy="568.5" r="4.8"/>
<circle cx="387.77" cy="568.5" r="4.8"/>
<circle cx="390.05" cy="555.42" r="4.8"/>
<circle cx="392.32" cy="564.58" r="4.8"/>
<circle cx="394.59" cy="538.49" r="4.8"/>
<circle cx="396.86" cy="564.58" r="4.8"/>
<circle cx="399.14" cy="559.74" r="4.8"/>
<circle cx="401.41" cy="568.5" r="4.8"/>
<circle cx="403.68" cy="568.5" r="4.8"/>
<circle cx="405.95" cy="552.22" r="4.8"/>
<circle cx="408.23" cy="565.23" r="4.8"/>
<circle cx="410.5" cy="561.64" r="4.8"/>
<circle cx="412.77" cy="565.23" r="4.8"/>
<circle cx="415.05" cy="562.88" r="4.8"/>
<circle cx="417.32" cy="568.5" r="4.8"/>
<circle cx="419.59" cy="568.5" r="4.8"/>
<circle cx="421.86" cy="552.22" r="4.8"/>
<circle cx="424.14" cy="561.96" r="4.8"/>
<circle cx="426.41" cy="565.23" r="4.8"/>
<circle cx="428.68" cy="561.31" r="4.8"/>
<circle cx="430.95" cy="564.58" r="4.8"/>
<circle cx="433.23" cy="568.5" r="4.8"/>
<circle cx="435.5" cy="568.5" r="4.8"/>
<circle cx="437.77" cy="544.77" r="4.8"/>
<circle cx="440.05" cy="565.23" r="4.8"/>
<circle cx="442.32" cy="561.31" r="4.8"/>
<circle cx="444.59" cy="564.58" r="4.8"/>
<circle cx="446.86" cy="565.88" r="4.8"/>
<circle cx="449.14" cy="568.5" r="4.8"/>
<circle cx="451.41" cy="568.5" r="4.8"/>
<circle cx="453.68" cy="536.6" r="4.8"/>
<circle cx="455.95" cy="564.58" r="4.8"/>
<circle cx="458.23" cy="556.6" r="4.8"/>
<circle cx="460.5" cy="563.92" r="4.8"/>
<circle cx="462.77" cy="559.15" r="4.8"/>
<circle cx="465.05" cy="568.5" r="4.8"/>
<circle cx="467.32" cy="568.5" r="4.8"/>
<circle cx="469.59" cy="543.72" r="4.8"/>
<circle cx="471.86" cy="560" r="4.8"/>
<circle cx="474.14" cy="561.96" r="4.8"/>
<circle cx="476.41" cy="560.65" r="4.8"/>
<circle cx="478.68" cy="557.91" r="4.8"/>
<circle cx="480.95" cy="568.5" r="4.8"/>
<circle cx="483.23" cy="568.5" r="4.8"/>
<circle cx="485.5" cy="568.5" r="4.8"/>
<circle cx="487.77" cy="541.63" r="4.8"/>
<circle cx="490.05" cy="561.31" r="4.8"/>
<circle cx="492.32" cy="554.12" r="4.8"/>
<circle cx="494.59" cy="552.88" r="4.8"/>
<circle cx="496.86" cy="568.5" r="4.8"/>
<circle cx="499.14" cy="568.5" r="4.8"/>
<circle cx="501.41" cy="531.69" r="4.8"/>
<circle cx="503.68" cy="559.28" r="4.8"/>
<circle cx="505.95" cy="560" r="4.8"/>
<circle cx="508.23" cy="554.25" r="4.8"/>
<circle cx="510.5" cy="560.52" r="4.8"/>
<circle cx="512.77" cy="568.5" r="4.8"/>
<circle cx="515.05" cy="568.5" r="4.8"/>
<circle cx="517.32" cy="536.66" r="4.8"/>
<circle cx="519.59" cy="559.28" r="4.8"/>
<circle cx="521.86" cy="558.69" r="4.8"/>
<circle cx="524.14" cy="558.04" r="4.8"/>
<circle cx="526.41" cy="561.77" r="4.8"/>
<circle cx="528.68" cy="568.5" r="4.8"/>
<circle cx="530.95" cy="568.5" r="4.8"/>
<circle cx="533.23" cy="533" r="4.8"/>
<circle cx="535.5" cy="555.49" r="4.8"/>
<circle cx="537.77" cy="556.73" r="4.8"/>
<circle cx="540.05" cy="555.42" r="4.8"/>
<circle cx="542.32" cy="533" r="4.8"/>
<circle cx="544.59" cy="568.5" r="4.8"/>
<circle cx="546.86" cy="568.5" r="4.8"/>
<circle cx="549.14" cy="514.24" r="4.8"/>
<circle cx="551.41" cy="560.52" r="4.8"/>
<circle cx="553.68" cy="560.52" r="4.8"/>
<circle cx="555.95" cy="543.53" r="4.8"/>
<circle cx="558.23" cy="549.28" r="4.8"/>
<circle cx="560.5" cy="568.5" r="4.8"/>
<circle cx="562.77" cy="568.5" r="4.8"/>
<circle cx="565.05" cy="481.75" r="4.8"/>
<circle cx="567.32" cy="548.04" r="4.8"/>
<circle cx="569.59" cy="558.04" r="4.8"/>
<circle cx="571.86" cy="557.39" r="4.8"/>
<circle cx="574.14" cy="516.79" r="4.8"/>
<circle cx="576.41" cy="568.5" r="4.8"/>
<circle cx="578.68" cy="568.5" r="4.8"/>
<circle cx="580.95" cy="491.03" r="4.8"/>
<circle cx="583.23" cy="541.04" r="4.8"/>
<circle cx="585.5" cy="540.39" r="4.8"/>
<circle cx="587.77" cy="535.49" r="4.8"/>
<circle cx="590.05" cy="524.76" r="4.8"/>
<circle cx="592.32" cy="568.5" r="4.8"/>
<circle cx="594.59" cy="568.5" r="4.8"/>
<circle cx="596.86" cy="434.48" r="4.8"/>
<circle cx="599.14" cy="533.52" r="4.8"/>
<circle cx="601.41" cy="536.73" r="4.8"/>
<circle cx="603.68" cy="482.99" r="4.8"/>
<circle cx="605.95" cy="519.73" r="4.8"/>
<circle cx="608.23" cy="568.5" r="4.8"/>
<circle cx="610.5" cy="568.5" r="4.8"/>
<circle cx="612.77" cy="395.84" r="4.8"/>
<circle cx="615.05" cy="504.76" r="4.8"/>
<circle cx="617.32" cy="534.77" r="4.8"/>
<circle cx="619.59" cy="458.47" r="4.8"/>
<circle cx="621.86" cy="499.73" r="4.8"/>
<circle cx="624.14" cy="568.5" r="4.8"/>
<circle cx="626.41" cy="568.5" r="4.8"/>
<circle cx="628.68" cy="352.89" r="4.8"/>
<circle cx="630.95" cy="469.98" r="4.8"/>
<circle cx="633.23" cy="451.28" r="4.8"/>
<circle cx="635.5" cy="493.51" r="4.8"/>
<circle cx="637.77" cy="389.9" r="4.8"/>
<circle cx="640.05" cy="568.5" r="4.8"/>
<circle cx="642.32" cy="568.5" r="4.8"/>
<circle cx="644.59" cy="265.36" r="4.8"/>
<circle cx="646.86" cy="457.49" r="4.8"/>
<circle cx="649.14" cy="435.13" r="4.8"/>
<circle cx="651.41" cy="414.61" r="4.8"/>
<circle cx="653.68" cy="432.52" r="4.8"/>
<circle cx="655.95" cy="568.5" r="4.8"/>
<circle cx="658.23" cy="568.5" r="4.8"/>
<circle cx="660.5" cy="223.91" r="4.8"/>
<circle cx="662.77" cy="533.79" r="4.8"/>
<circle cx="665.05" cy="446.77" r="4.8"/>
<circle cx="667.32" cy="568.5" r="4.8"/>
<circle cx="669.59" cy="344.85" r="4.8"/>
<circle cx="671.86" cy="568.5" r="4.8"/>
<circle cx="674.14" cy="568.5" r="4.8"/>
<circle cx="676.41" cy="260.85" r="4.8"/>
<circle cx="678.68" cy="473.71" r="4.8"/>
<circle cx="680.95" cy="393.62" r="4.8"/>
<circle cx="683.23" cy="257.64" r="4.8"/>
<circle cx="685.5" cy="468.67" r="4.8"/>
<circle cx="687.77" cy="568.5" r="4.8"/>
<circle cx="690.05" cy="568.5" r="4.8"/>
<circle cx="692.32" cy="37.26" r="4.8"/>
<circle cx="694.59" cy="410.88" r="4.8"/>
<circle cx="696.86" cy="418.4" r="4.8"/>
<circle cx="699.14" cy="409.9" r="4.8"/>
<circle cx="701.41" cy="321.64" r="4.8"/>
<circle cx="703.68" cy="568.5" r="4.8"/>
<circle cx="705.95" cy="568.5" r="4.8"/>
<circle cx="708.23" cy="95.77" r="4.8"/>
<circle cx="710.5" cy="472.92" r="4.8"/>
<circle cx="712.77" cy="417.35" r="4.8"/>
<circle cx="715.05" cy="416.63" r="4.8"/>
<circle cx="717.32" cy="393.82" r="4.8"/>
<circle cx="726.41" cy="466.06" r="4.8"/>
<circle cx="728.68" cy="454.75" r="4.8"/>
<circle cx="730.95" cy="435.79" r="4.8"/>
<circle cx="733.23" cy="568.5" r="4.8"/>
<circle cx="735.5" cy="568.5" r="4.8"/>
<circle cx="737.77" cy="568.5" r="4.8"/>
<circle cx="740.05" cy="15.75" r="4.8"/>
<circle cx="742.32" cy="519.01" r="4.8"/>
<circle cx="744.59" cy="457.75" r="4.8"/>
<circle cx="746.86" cy="435.79" r="4.8"/>
<circle cx="749.14" cy="568.5" r="4.8"/>
<circle cx="751.41" cy="280.65" r="4.8"/>
<circle cx="753.68" cy="568.5" r="4.8"/>
<circle cx="755.95" cy="273.66" r="4.8"/>
<circle cx="758.23" cy="416.9" r="4.8"/>
<circle cx="760.5" cy="406.63" r="4.8"/>
<circle cx="762.77" cy="352.89" r="4.8"/>
<circle cx="765.05" cy="357.6" r="4.8"/>
<circle cx="767.32" cy="568.5" r="4.8"/>
<circle cx="769.59" cy="568.5" r="4.8"/>
<circle cx="771.86" cy="87.47" r="4.8"/>
<circle cx="774.14" cy="327.59" r="4.8"/>
<circle cx="776.41" cy="337.92" r="4.8"/>
<circle cx="778.68" cy="505.94" r="4.8"/>
<circle cx="780.95" cy="445.79" r="4.8"/>
<circle cx="783.23" cy="568.5" r="4.8"/>
<circle cx="785.5" cy="568.5" r="4.8"/>
</g>
<line x1="721" y1="568.5" x2="721" y2="15.5" stroke="#1f77b4" stroke-opacity="0.5" stroke-width="2.08" stroke-dasharray="7.5 3.558"/>
</g>
<g clip-path="url(#cb)">
<polyline points="60.5,1145.3 100,1143.5 107.5,1135.6 116.9,1125 119.4,1116.25 122.5,1108.75 128.75,1090 133.75,1070 137.5,1050 140.6,1031.25 143.7,1020 144.9,1006 146.6,995.5 150.1,987.3 154.8,969.8 157.1,974.5 160,968.6 161.8,947.6 164.1,943 166.5,947.6 168.8,934.2 171.1,953.5 173.5,933 175.8,948.8 179.5,958 182.5,947.5 184.75,952 187.75,961 191.5,961 194.25,985 197,975 200,982.5 203,977.5 206.25,1000 209.5,1016.25 212,1007.5 215.5,1008 218.75,1027.5 221.25,1023.75 223.75,1035 228.75,1046.25 232.5,1045 237.5,1057.5 245,1070 251,1078.75 257.5,1085 263.75,1093.75 270,1100 280,1108.75 287.5,1112.5 295,1117.5 302.5,1125 317.5,1126 325,1130 335,1133.75 337.5,1131 342.5,1136 365,1136 370,1139.5 390,1140 395,1141 430,1142.5 480,1143 540,1142.5 560,1141 570,1139 580,1136 590,1136.25 595,1133.75 602.5,1131 607.5,1133.75 612.5,1130 615,1128.75 620,1128.75 625,1126 632.5,1123.75 640,1120 647.5,1117.5 652.5,1115 658.75,1108.75 665,1106 671,1096 677.5,1093.75 683.75,1087.5 685,1083 690,1082.5 693.75,1077.5 700,1082.5 702.5,1077.5 707.5,1077.5 709.4,1081 715,1077.5 720,1078 722,1083 725,1077.5 728,1082.5 732.5,1080.6 737.5,1085.6 742.5,1086 747.5,1092.5 755,1098.75 760,1100 765,1105 771,1110 775,1108 780,1110 785.5,1115" fill="none" stroke="#1f77b4" stroke-width="2.08" stroke-linejoin="round"/>
<g fill="#ff7f0e">
<circle cx="60.5" cy="1145.5" r="4.8"/>
<circle cx="62.77" cy="1145.5" r="4.8"/>
<circle cx="65.05" cy="1145.5" r="4.8"/>
<circle cx="67.32" cy="1145.5" r="4.8"/>
<circle cx="69.59" cy="1145.5" r="4.8"/>
<circle cx="71.86" cy="1145.5" r="4.8"/>
<circle cx="74.14" cy="1145.5" r="4.8"/>
<circle cx="76.41" cy="1145.5" r="4.8"/>
<circle cx="78.68" cy="1145.5" r="4.8"/>
<circle cx="80.95" cy="1145.5" r="4.8"/>
<circle cx="83.23" cy="1145.5" r="4.8"/>
<circle cx="85.5" cy="1145.5" r="4.8"/>
<circle cx="87.77" cy="1145.5" r="4.8"/>
<circle cx="90.05" cy="1145.5" r="4.8"/>
<circle cx="92.32" cy="1142.8" r="4.8"/>
<circle cx="94.59" cy="1140.1" r="4.8"/>
<circle cx="96.86" cy="1142.8" r="4.8"/>
<circle cx="99.14" cy="1142.8" r="4.8"/>
<circle cx="101.41" cy="1137.4" r="4.8"/>
<circle cx="103.68" cy="1140.1" r="4.8"/>
<circle cx="105.95" cy="1140.1" r="4.8"/>
<circle cx="108.23" cy="1126.6" r="4.8"/>
<circle cx="110.5" cy="1140.1" r="4.8"/>
<circle cx="112.77" cy="1129.3" r="4.8"/>
<circle cx="115.05" cy="1129.3" r="4.8"/>
<circle cx="117.32" cy="1142.8" r="4.8"/>
<circle cx="119.59" cy="1140.1" r="4.8"/>
<circle cx="121.86" cy="1056.4" r="4.8"/>
<circle cx="124.14" cy="1102.3" r="4.8"/>
<circle cx="126.41" cy="1072.6" r="4.8"/>
<circle cx="128.68" cy="1094.2" r="4.8"/>
<circle cx="130.95" cy="1053.7" r="4.8"/>
<circle cx="133.23" cy="1080.7" r="4.8"/>
<circle cx="135.5" cy="1099.6" r="4.8"/>
<circle cx="137.77" cy="953.8" r="4.8"/>
<circle cx="140.05" cy="1013.2" r="4.8"/>
<circle cx="142.32" cy="999.7" r="4.8"/>
<circle cx="144.59" cy="961.9" r="4.8"/>
<circle cx="146.86" cy="1021.3" r="4.8"/>
<circle cx="149.14" cy="983.5" r="4.8"/>
<circle cx="151.41" cy="1015.9" r="4.8"/>
<circle cx="153.68" cy="959.2" r="4.8"/>
<circle cx="155.95" cy="613.6" r="4.8"/>
<circle cx="158.23" cy="867.4" r="4.8"/>
<circle cx="160.5" cy="970" r="4.8"/>
<circle cx="162.77" cy="1010.5" r="4.8"/>
<circle cx="165.05" cy="1034.8" r="4.8"/>
<circle cx="167.32" cy="594.43" r="4.8"/>
<circle cx="169.59" cy="897.1" r="4.8"/>
<circle cx="171.86" cy="818.8" r="4.8"/>
<circle cx="174.14" cy="889" r="4.8"/>
<circle cx="176.41" cy="799.9" r="4.8"/>
<circle cx="178.68" cy="880.9" r="4.8"/>
<circle cx="180.95" cy="986.2" r="4.8"/>
<circle cx="183.23" cy="907.9" r="4.8"/>
<circle cx="185.5" cy="943" r="4.8"/>
<circle cx="187.77" cy="924.1" r="4.8"/>
<circle cx="190.05" cy="907.9" r="4.8"/>
<circle cx="192.32" cy="924.1" r="4.8"/>
<circle cx="194.59" cy="883.6" r="4.8"/>
<circle cx="196.86" cy="1145.5" r="4.8"/>
<circle cx="199.14" cy="821.5" r="4.8"/>
<circle cx="201.41" cy="937.6" r="4.8"/>
<circle cx="203.68" cy="916" r="4.8"/>
<circle cx="205.95" cy="932.2" r="4.8"/>
<circle cx="208.23" cy="937.6" r="4.8"/>
<circle cx="210.5" cy="988.9" r="4.8"/>
<circle cx="212.77" cy="1051" r="4.8"/>
<circle cx="215.05" cy="1034.8" r="4.8"/>
<circle cx="217.32" cy="1056.4" r="4.8"/>
<circle cx="219.59" cy="918.7" r="4.8"/>
<circle cx="221.86" cy="891.7" r="4.8"/>
<circle cx="224.14" cy="967.3" r="4.8"/>
<circle cx="226.41" cy="999.7" r="4.8"/>
<circle cx="228.68" cy="959.2" r="4.8"/>
<circle cx="230.95" cy="1032.1" r="4.8"/>
<circle cx="233.23" cy="1086.1" r="4.8"/>
<circle cx="235.5" cy="991.6" r="4.8"/>
<circle cx="237.77" cy="999.7" r="4.8"/>
<circle cx="240.05" cy="999.7" r="4.8"/>
<circle cx="242.32" cy="1042.9" r="4.8"/>
<circle cx="244.59" cy="1096.9" r="4.8"/>
<circle cx="246.86" cy="1013.2" r="4.8"/>
<circle cx="249.14" cy="1072.6" r="4.8"/>
<circle cx="251.41" cy="1053.7" r="4.8"/>
<circle cx="253.68" cy="1083.4" r="4.8"/>
<circle cx="255.95" cy="1032.1" r="4.8"/>
<circle cx="258.23" cy="1026.7" r="4.8"/>
<circle cx="260.5" cy="1059.1" r="4.8"/>
<circle cx="262.77" cy="1075.3" r="4.8"/>
<circle cx="265.05" cy="1140.1" r="4.8"/>
<circle cx="267.32" cy="1099.6" r="4.8"/>
<circle cx="269.59" cy="1096.9" r="4.8"/>
<circle cx="271.86" cy="1061.8" r="4.8"/>
<circle cx="274.14" cy="1099.6" r="4.8"/>
<circle cx="276.41" cy="1102.3" r="4.8"/>
<circle cx="278.68" cy="1110.4" r="4.8"/>
<circle cx="280.95" cy="1110.4" r="4.8"/>
<circle cx="283.23" cy="1083.4" r="4.8"/>
<circle cx="285.5" cy="1075.3" r="4.8"/>
<circle cx="287.77" cy="1110.4" r="4.8"/>
<circle cx="290.05" cy="1072.6" r="4.8"/>
<circle cx="292.32" cy="1105" r="4.8"/>
<circle cx="294.59" cy="1137.4" r="4.8"/>
<circle cx="296.86" cy="1127.95" r="4.8"/>
<circle cx="299.14" cy="1121.2" r="4.8"/>
<circle cx="301.41" cy="1121.2" r="4.8"/>
<circle cx="303.68" cy="1114.99" r="4.8"/>
<circle cx="305.95" cy="1110.4" r="4.8"/>
<circle cx="308.23" cy="1120.12" r="4.8"/>
<circle cx="310.5" cy="1137.4" r="4.8"/>
<circle cx="312.77" cy="1106.62" r="4.8"/>
<circle cx="315.05" cy="1118.5" r="4.8"/>
<circle cx="317.32" cy="1114.45" r="4.8"/>
<circle cx="319.59" cy="1121.74" r="4.8"/>
<circle cx="321.86" cy="1133.35" r="4.8"/>
<circle cx="324.14" cy="1134.7" r="4.8"/>
<circle cx="326.41" cy="1137.4" r="4.8"/>
<circle cx="328.68" cy="1137.94" r="4.8"/>
<circle cx="330.95" cy="1137.4" r="4.8"/>
<circle cx="333.23" cy="1139.02" r="4.8"/>
<circle cx="335.5" cy="1121.2" r="4.8"/>
<circle cx="337.77" cy="1145.5" r="4.8"/>
<circle cx="340.05" cy="1145.5" r="4.8"/>
<circle cx="342.32" cy="1134.97" r="4.8"/>
<circle cx="344.59" cy="1140.1" r="4.8"/>
<circle cx="346.86" cy="1132" r="4.8"/>
<circle cx="349.14" cy="1132" r="4.8"/>
<circle cx="351.41" cy="1140.1" r="4.8"/>
<circle cx="353.68" cy="1145.5" r="4.8"/>
<circle cx="355.95" cy="1145.5" r="4.8"/>
<circle cx="358.23" cy="1083.4" r="4.8"/>
<circle cx="360.5" cy="1141.45" r="4.8"/>
<circle cx="362.77" cy="1121.2" r="4.8"/>
<circle cx="365.05" cy="1121.2" r="4.8"/>
<circle cx="367.32" cy="1126.06" r="4.8"/>
<circle cx="369.59" cy="1145.5" r="4.8"/>
<circle cx="371.86" cy="1145.5" r="4.8"/>
<circle cx="374.14" cy="1117.96" r="4.8"/>
<circle cx="376.41" cy="1142.8" r="4.8"/>
<circle cx="378.68" cy="1140.1" r="4.8"/>
<circle cx="380.95" cy="1133.89" r="4.8"/>
<circle cx="383.23" cy="1141.45" r="4.8"/>
<circle cx="385.5" cy="1145.5" r="4.8"/>
<circle cx="387.77" cy="1133.08" r="4.8"/>
<circle cx="390.05" cy="1140.1" r="4.8"/>
<circle cx="392.32" cy="1142.8" r="4.8"/>
<circle cx="394.59" cy="1140.1" r="4.8"/>
<circle cx="396.86" cy="1128.49" r="4.8"/>
<circle cx="399.14" cy="1140.1" r="4.8"/>
<circle cx="401.41" cy="1145.5" r="4.8"/>
<circle cx="403.68" cy="1132" r="4.8"/>
<circle cx="405.95" cy="1132.54" r="4.8"/>
<circle cx="408.23" cy="1140.1" r="4.8"/>
<circle cx="410.5" cy="1142.8" r="4.8"/>
<circle cx="412.77" cy="1133.35" r="4.8"/>
<circle cx="415.05" cy="1134.7" r="4.8"/>
<circle cx="417.32" cy="1145.5" r="4.8"/>
<circle cx="419.59" cy="1145.5" r="4.8"/>
<circle cx="421.86" cy="1137.4" r="4.8"/>
<circle cx="424.14" cy="1140.1" r="4.8"/>
<circle cx="426.41" cy="1128.49" r="4.8"/>
<circle cx="428.68" cy="1136.05" r="4.8"/>
<circle cx="430.95" cy="1140.1" r="4.8"/>
<circle cx="433.23" cy="1145.5" r="4.8"/>
<circle cx="435.5" cy="1145.5" r="4.8"/>
<circle cx="437.77" cy="1136.05" r="4.8"/>
<circle cx="440.05" cy="1142.8" r="4.8"/>
<circle cx="442.32" cy="1140.1" r="4.8"/>
<circle cx="444.59" cy="1139.02" r="4.8"/>
<circle cx="446.86" cy="1140.1" r="4.8"/>
<circle cx="449.14" cy="1145.5" r="4.8"/>
<circle cx="451.41" cy="1145.5" r="4.8"/>
<circle cx="453.68" cy="1136.05" r="4.8"/>
<circle cx="455.95" cy="1137.4" r="4.8"/>
<circle cx="458.23" cy="1142.8" r="4.8"/>
<circle cx="460.5" cy="1139.02" r="4.8"/>
<circle cx="462.77" cy="1142.8" r="4.8"/>
<circle cx="465.05" cy="1145.5" r="4.8"/>
<circle cx="467.32" cy="1145.5" r="4.8"/>
<circle cx="469.59" cy="1142.8" r="4.8"/>
<circle cx="471.86" cy="1140.91" r="4.8"/>
<circle cx="474.14" cy="1141.45" r="4.8"/>
<circle cx="476.41" cy="1142.8" r="4.8"/>
<circle cx="478.68" cy="1142.8" r="4.8"/>
<circle cx="480.95" cy="1145.5" r="4.8"/>
<circle cx="483.23" cy="1145.5" r="4.8"/>
<circle cx="485.5" cy="1145.5" r="4.8"/>
<circle cx="487.77" cy="1129.03" r="4.8"/>
<circle cx="490.05" cy="1140.1" r="4.8"/>
<circle cx="492.32" cy="1133.89" r="4.8"/>
<circle cx="494.59" cy="1138.21" r="4.8"/>
<circle cx="496.86" cy="1145.5" r="4.8"/>
<circle cx="499.14" cy="1145.5" r="4.8"/>
<circle cx="501.41" cy="1132" r="4.8"/>
<circle cx="503.68" cy="1140.1" r="4.8"/>
<circle cx="505.95" cy="1140.1" r="4.8"/>
<circle cx="508.23" cy="1138.75" r="4.8"/>
<circle cx="510.5" cy="1133.08" r="4.8"/>
<circle cx="512.77" cy="1145.5" r="4.8"/>
<circle cx="515.05" cy="1145.5" r="4.8"/>
<circle cx="517.32" cy="1137.4" r="4.8"/>
<circle cx="519.59" cy="1140.1" r="4.8"/>
<circle cx="521.86" cy="1141.45" r="4.8"/>
<circle cx="524.14" cy="1140.1" r="4.8"/>
<circle cx="526.41" cy="1140.1" r="4.8"/>
<circle cx="528.68" cy="1145.5" r="4.8"/>
<circle cx="530.95" cy="1145.5" r="4.8"/>
<circle cx="533.23" cy="1140.1" r="4.8"/>
<circle cx="535.5" cy="1140.1" r="4.8"/>
<circle cx="537.77" cy="1136.05" r="4.8"/>
<circle cx="540.05" cy="1140.1" r="4.8"/>
<circle cx="542.32" cy="1140.1" r="4.8"/>
<circle cx="544.59" cy="1145.5" r="4.8"/>
<circle cx="546.86" cy="1145.5" r="4.8"/>
<circle cx="549.14" cy="1133.89" r="4.8"/>
<circle cx="551.41" cy="1137.4" r="4.8"/>
<circle cx="553.68" cy="1140.1" r="4.8"/>
<circle cx="555.95" cy="1131.46" r="4.8"/>
<circle cx="558.23" cy="1140.1" r="4.8"/>
<circle cx="560.5" cy="1145.5" r="4.8"/>
<circle cx="562.77" cy="1145.5" r="4.8"/>
<circle cx="565.05" cy="1137.4" r="4.8"/>
<circle cx="567.32" cy="1140.1" r="4.8"/>
<circle cx="569.59" cy="1133.35" r="4.8"/>
<circle cx="571.86" cy="1137.4" r="4.8"/>
<circle cx="574.14" cy="1138.21" r="4.8"/>
<circle cx="576.41" cy="1145.5" r="4.8"/>
<circle cx="578.68" cy="1145.5" r="4.8"/>
<circle cx="580.95" cy="1113.1" r="4.8"/>
<circle cx="583.23" cy="1132" r="4.8"/>
<circle cx="585.5" cy="1123.09" r="4.8"/>
<circle cx="587.77" cy="1139.02" r="4.8"/>
<circle cx="590.05" cy="1123.09" r="4.8"/>
<circle cx="592.32" cy="1145.5" r="4.8"/>
<circle cx="594.59" cy="1145.5" r="4.8"/>
<circle cx="596.86" cy="1113.1" r="4.8"/>
<circle cx="599.14" cy="1121.2" r="4.8"/>
<circle cx="601.41" cy="1127.95" r="4.8"/>
<circle cx="603.68" cy="1125.79" r="4.8"/>
<circle cx="605.95" cy="1132" r="4.8"/>
<circle cx="608.23" cy="1145.5" r="4.8"/>
<circle cx="610.5" cy="1145.5" r="4.8"/>
<circle cx="612.77" cy="1114.99" r="4.8"/>
<circle cx="615.05" cy="1121.2" r="4.8"/>
<circle cx="617.32" cy="1122.55" r="4.8"/>
<circle cx="619.59" cy="1114.99" r="4.8"/>
<circle cx="621.86" cy="1105" r="4.8"/>
<circle cx="624.14" cy="1145.5" r="4.8"/>
<circle cx="626.41" cy="1145.5" r="4.8"/>
<circle cx="628.68" cy="1072.6" r="4.8"/>
<circle cx="630.95" cy="1121.2" r="4.8"/>
<circle cx="633.23" cy="1120.12" r="4.8"/>
<circle cx="635.5" cy="1123.9" r="4.8"/>
<circle cx="637.77" cy="1114.99" r="4.8"/>
<circle cx="640.05" cy="1145.5" r="4.8"/>
<circle cx="642.32" cy="1145.5" r="4.8"/>
<circle cx="644.59" cy="1086.1" r="4.8"/>
<circle cx="646.86" cy="1113.1" r="4.8"/>
<circle cx="649.14" cy="1110.4" r="4.8"/>
<circle cx="651.41" cy="1088.8" r="4.8"/>
<circle cx="653.68" cy="1083.4" r="4.8"/>
<circle cx="655.95" cy="1145.5" r="4.8"/>
<circle cx="658.23" cy="1145.5" r="4.8"/>
<circle cx="660.5" cy="1029.4" r="4.8"/>
<circle cx="662.77" cy="1117.69" r="4.8"/>
<circle cx="665.05" cy="1024" r="4.8"/>
<circle cx="667.32" cy="1145.5" r="4.8"/>
<circle cx="669.59" cy="1051" r="4.8"/>
<circle cx="671.86" cy="1145.5" r="4.8"/>
<circle cx="674.14" cy="1145.5" r="4.8"/>
<circle cx="676.41" cy="986.2" r="4.8"/>
<circle cx="678.68" cy="1091.5" r="4.8"/>
<circle cx="680.95" cy="1007.8" r="4.8"/>
<circle cx="683.23" cy="1091.5" r="4.8"/>
<circle cx="685.5" cy="1051" r="4.8"/>
<circle cx="687.77" cy="1145.5" r="4.8"/>
<circle cx="690.05" cy="1145.5" r="4.8"/>
<circle cx="692.32" cy="934.9" r="4.8"/>
<circle cx="694.59" cy="1096.36" r="4.8"/>
<circle cx="696.86" cy="1029.4" r="4.8"/>
<circle cx="699.14" cy="1032.1" r="4.8"/>
<circle cx="701.41" cy="1048.3" r="4.8"/>
<circle cx="703.68" cy="1145.5" r="4.8"/>
<circle cx="705.95" cy="1145.5" r="4.8"/>
<circle cx="708.23" cy="926.8" r="4.8"/>
<circle cx="710.5" cy="1086.1" r="4.8"/>
<circle cx="712.77" cy="1037.5" r="4.8"/>
<circle cx="715.05" cy="1021.3" r="4.8"/>
<circle cx="717.32" cy="1067.2" r="4.8"/>
<circle cx="726.41" cy="1072.6" r="4.8"/>
<circle cx="728.68" cy="1056.4" r="4.8"/>
<circle cx="730.95" cy="997" r="4.8"/>
<circle cx="733.23" cy="1145.5" r="4.8"/>
<circle cx="735.5" cy="1145.5" r="4.8"/>
<circle cx="737.77" cy="1145.5" r="4.8"/>
<circle cx="740.05" cy="840.4" r="4.8"/>
<circle cx="742.32" cy="1091.5" r="4.8"/>
<circle cx="744.59" cy="1037.5" r="4.8"/>
<circle cx="746.86" cy="1061.8" r="4.8"/>
<circle cx="749.14" cy="1145.5" r="4.8"/>
<circle cx="751.41" cy="864.7" r="4.8"/>
<circle cx="753.68" cy="1145.5" r="4.8"/>
<circle cx="755.95" cy="959.2" r="4.8"/>
<circle cx="758.23" cy="1079.89" r="4.8"/>
<circle cx="760.5" cy="1043.71" r="4.8"/>
<circle cx="762.77" cy="991.6" r="4.8"/>
<circle cx="765.05" cy="1045.06" r="4.8"/>
<circle cx="767.32" cy="1145.5" r="4.8"/>
<circle cx="769.59" cy="1145.5" r="4.8"/>
<circle cx="771.86" cy="897.1" r="4.8"/>
<circle cx="774.14" cy="1056.4" r="4.8"/>
<circle cx="776.41" cy="910.6" r="4.8"/>
<circle cx="778.68" cy="1099.6" r="4.8"/>
<circle cx="780.95" cy="1034.8" r="4.8"/>
<circle cx="783.23" cy="1145.5" r="4.8"/>
<circle cx="785.5" cy="1145.5" r="4.8"/>
</g>
<line x1="721" y1="1145.5" x2="721" y2="592.5" stroke="#1f77b4" stroke-opacity="0.5" stroke-width="2.08" stroke-dasharray="7.5 3.558"/>
</g>
<g fill="none" stroke="#000" stroke-width="1.11" stroke-linecap="square">
<rect x="60.5" y="15.5" width="725.0" height="553.0"/>
<rect x="60.5" y="592.5" width="725.0" height="553.0"/>
</g>
<g stroke="#000" fill="none">
<g stroke-width="1.11">
<line x1="123.5" y1="568.5" x2="123.5" y2="573.36"/>
<line x1="192.5" y1="568.5" x2="192.5" y2="573.36"/>
<line x1="262.5" y1="568.5" x2="262.5" y2="573.36"/>
<line x1="330.5" y1="568.5" x2="330.5" y2="573.36"/>
<line x1="401.5" y1="568.5" x2="401.5" y2="573.36"/>
<line x1="471.5" y1="568.5" x2="471.5" y2="573.36"/>
<line x1="540.5" y1="568.5" x2="540.5" y2="573.36"/>
<line x1="610.5" y1="568.5" x2="610.5" y2="573.36"/>
<line x1="678.5" y1="568.5" x2="678.5" y2="573.36"/>
<line x1="749.5" y1="568.5" x2="749.5" y2="573.36"/>
<line x1="60.5" y1="568.5" x2="60.5" y2="573.36"/>
<line x1="785.5" y1="568.5" x2="785.5" y2="573.36"/>
</g><g stroke-width="0.83">
<line x1="71.5" y1="568.5" x2="71.5" y2="571.28"/>
<line x1="87.5" y1="568.5" x2="87.5" y2="571.28"/>
<line x1="103.5" y1="568.5" x2="103.5" y2="571.28"/>
<line x1="119.5" y1="568.5" x2="119.5" y2="571.28"/>
<line x1="135.5" y1="568.5" x2="135.5" y2="571.28"/>
<line x1="151.5" y1="568.5" x2="151.5" y2="571.28"/>
<line x1="167.5" y1="568.5" x2="167.5" y2="571.28"/>
<line x1="183.5" y1="568.5" x2="183.5" y2="571.28"/>
<line x1="199.5" y1="568.5" x2="199.5" y2="571.28"/>
<line x1="215.5" y1="568.5" x2="215.5" y2="571.28"/>
<line x1="230.5" y1="568.5" x2="230.5" y2="571.28"/>
<line x1="246.5" y1="568.5" x2="246.5" y2="571.28"/>
<line x1="262.5" y1="568.5" x2="262.5" y2="571.28"/>
<line x1="278.5" y1="568.5" x2="278.5" y2="571.28"/>
<line x1="294.5" y1="568.5" x2="294.5" y2="571.28"/>
<line x1="310.5" y1="568.5" x2="310.5" y2="571.28"/>
<line x1="326.5" y1="568.5" x2="326.5" y2="571.28"/>
<line x1="342.5" y1="568.5" x2="342.5" y2="571.28"/>
<line x1="358.5" y1="568.5" x2="358.5" y2="571.28"/>
<line x1="374.5" y1="568.5" x2="374.5" y2="571.28"/>
<line x1="390.5" y1="568.5" x2="390.5" y2="571.28"/>
<line x1="405.5" y1="568.5" x2="405.5" y2="571.28"/>
<line x1="421.5" y1="568.5" x2="421.5" y2="571.28"/>
<line x1="437.5" y1="568.5" x2="437.5" y2="571.28"/>
<line x1="453.5" y1="568.5" x2="453.5" y2="571.28"/>
<line x1="469.5" y1="568.5" x2="469.5" y2="571.28"/>
<line x1="485.5" y1="568.5" x2="485.5" y2="571.28"/>
<line x1="501.5" y1="568.5" x2="501.5" y2="571.28"/>
<line x1="517.5" y1="568.5" x2="517.5" y2="571.28"/>
<line x1="533.5" y1="568.5" x2="533.5" y2="571.28"/>
<line x1="549.5" y1="568.5" x2="549.5" y2="571.28"/>
<line x1="565.5" y1="568.5" x2="565.5" y2="571.28"/>
<line x1="580.5" y1="568.5" x2="580.5" y2="571.28"/>
<line x1="596.5" y1="568.5" x2="596.5" y2="571.28"/>
<line x1="612.5" y1="568.5" x2="612.5" y2="571.28"/>
<line x1="628.5" y1="568.5" x2="628.5" y2="571.28"/>
<line x1="644.5" y1="568.5" x2="644.5" y2="571.28"/>
<line x1="660.5" y1="568.5" x2="660.5" y2="571.28"/>
<line x1="676.5" y1="568.5" x2="676.5" y2="571.28"/>
<line x1="692.5" y1="568.5" x2="692.5" y2="571.28"/>
<line x1="708.5" y1="568.5" x2="708.5" y2="571.28"/>
<line x1="724.5" y1="568.5" x2="724.5" y2="571.28"/>
<line x1="740.5" y1="568.5" x2="740.5" y2="571.28"/>
<line x1="755.5" y1="568.5" x2="755.5" y2="571.28"/>
<line x1="771.5" y1="568.5" x2="771.5" y2="571.28"/>
</g>
<g stroke-width="1.11">
<line x1="123.5" y1="1145.5" x2="123.5" y2="1150.36"/>
<line x1="192.5" y1="1145.5" x2="192.5" y2="1150.36"/>
<line x1="262.5" y1="1145.5" x2="262.5" y2="1150.36"/>
<line x1="330.5" y1="1145.5" x2="330.5" y2="1150.36"/>
<line x1="401.5" y1="1145.5" x2="401.5" y2="1150.36"/>
<line x1="471.5" y1="1145.5" x2="471.5" y2="1150.36"/>
<line x1="540.5" y1="1145.5" x2="540.5" y2="1150.36"/>
<line x1="610.5" y1="1145.5" x2="610.5" y2="1150.36"/>
<line x1="678.5" y1="1145.5" x2="678.5" y2="1150.36"/>
<line x1="749.5" y1="1145.5" x2="749.5" y2="1150.36"/>
<line x1="60.5" y1="1145.5" x2="60.5" y2="1150.36"/>
<line x1="785.5" y1="1145.5" x2="785.5" y2="1150.36"/>
</g><g stroke-width="0.83">
<line x1="71.5" y1="1145.5" x2="71.5" y2="1148.28"/>
<line x1="87.5" y1="1145.5" x2="87.5" y2="1148.28"/>
<line x1="103.5" y1="1145.5" x2="103.5" y2="1148.28"/>
<line x1="119.5" y1="1145.5" x2="119.5" y2="1148.28"/>
<line x1="135.5" y1="1145.5" x2="135.5" y2="1148.28"/>
<line x1="151.5" y1="1145.5" x2="151.5" y2="1148.28"/>
<line x1="167.5" y1="1145.5" x2="167.5" y2="1148.28"/>
<line x1="183.5" y1="1145.5" x2="183.5" y2="1148.28"/>
<line x1="199.5" y1="1145.5" x2="199.5" y2="1148.28"/>
<line x1="215.5" y1="1145.5" x2="215.5" y2="1148.28"/>
<line x1="230.5" y1="1145.5" x2="230.5" y2="1148.28"/>
<line x1="246.5" y1="1145.5" x2="246.5" y2="1148.28"/>
<line x1="262.5" y1="1145.5" x2="262.5" y2="1148.28"/>
<line x1="278.5" y1="1145.5" x2="278.5" y2="1148.28"/>
<line x1="294.5" y1="1145.5" x2="294.5" y2="1148.28"/>
<line x1="310.5" y1="1145.5" x2="310.5" y2="1148.28"/>
<line x1="326.5" y1="1145.5" x2="326.5" y2="1148.28"/>
<line x1="342.5" y1="1145.5" x2="342.5" y2="1148.28"/>
<line x1="358.5" y1="1145.5" x2="358.5" y2="1148.28"/>
<line x1="374.5" y1="1145.5" x2="374.5" y2="1148.28"/>
<line x1="390.5" y1="1145.5" x2="390.5" y2="1148.28"/>
<line x1="405.5" y1="1145.5" x2="405.5" y2="1148.28"/>
<line x1="421.5" y1="1145.5" x2="421.5" y2="1148.28"/>
<line x1="437.5" y1="1145.5" x2="437.5" y2="1148.28"/>
<line x1="453.5" y1="1145.5" x2="453.5" y2="1148.28"/>
<line x1="469.5" y1="1145.5" x2="469.5" y2="1148.28"/>
<line x1="485.5" y1="1145.5" x2="485.5" y2="1148.28"/>
<line x1="501.5" y1="1145.5" x2="501.5" y2="1148.28"/>
<line x1="517.5" y1="1145.5" x2="517.5" y2="1148.28"/>
<line x1="533.5" y1="1145.5" x2="533.5" y2="1148.28"/>
<line x1="549.5" y1="1145.5" x2="549.5" y2="1148.28"/>
<line x1="565.5" y1="1145.5" x2="565.5" y2="1148.28"/>
<line x1="580.5" y1="1145.5" x2="580.5" y2="1148.28"/>
<line x1="596.5" y1="1145.5" x2="596.5" y2="1148.28"/>
<line x1="612.5" y1="1145.5" x2="612.5" y2="1148.28"/>
<line x1="628.5" y1="1145.5" x2="628.5" y2="1148.28"/>
<line x1="644.5" y1="1145.5" x2="644.5" y2="1148.28"/>
<line x1="660.5" y1="1145.5" x2="660.5" y2="1148.28"/>
<line x1="676.5" y1="1145.5" x2="676.5" y2="1148.28"/>
<line x1="692.5" y1="1145.5" x2="692.5" y2="1148.28"/>
<line x1="708.5" y1="1145.5" x2="708.5" y2="1148.28"/>
<line x1="724.5" y1="1145.5" x2="724.5" y2="1148.28"/>
<line x1="740.5" y1="1145.5" x2="740.5" y2="1148.28"/>
<line x1="755.5" y1="1145.5" x2="755.5" y2="1148.28"/>
<line x1="771.5" y1="1145.5" x2="771.5" y2="1148.28"/>
</g>
<g stroke-width="1.11">
<line x1="55.64" y1="568.5" x2="60.5" y2="568.5"/>
<line x1="55.64" y1="503.5" x2="60.5" y2="503.5"/>
<line x1="55.64" y1="437.5" x2="60.5" y2="437.5"/>
<line x1="55.64" y1="372.5" x2="60.5" y2="372.5"/>
<line x1="55.64" y1="307.5" x2="60.5" y2="307.5"/>
<line x1="55.64" y1="241.5" x2="60.5" y2="241.5"/>
<line x1="55.64" y1="176.5" x2="60.5" y2="176.5"/>
<line x1="55.64" y1="110.5" x2="60.5" y2="110.5"/>
<line x1="55.64" y1="45.5" x2="60.5" y2="45.5"/>
<line x1="55.64" y1="1145.5" x2="60.5" y2="1145.5"/>
<line x1="55.64" y1="1078.5" x2="60.5" y2="1078.5"/>
<line x1="55.64" y1="1010.5" x2="60.5" y2="1010.5"/>
<line x1="55.64" y1="943.5" x2="60.5" y2="943.5"/>
<line x1="55.64" y1="875.5" x2="60.5" y2="875.5"/>
<line x1="55.64" y1="808.5" x2="60.5" y2="808.5"/>
<line x1="55.64" y1="740.5" x2="60.5" y2="740.5"/>
<line x1="55.64" y1="673.5" x2="60.5" y2="673.5"/>
<line x1="55.64" y1="605.5" x2="60.5" y2="605.5"/>
</g></g>
<g font-size="13.89" text-anchor="end">
<text x="50.6" y="573.55">0</text>
<text x="50.6" y="508.05">1000</text>
<text x="50.6" y="442.05">2000</text>
<text x="50.6" y="377.05">3000</text>
<text x="50.6" y="312.05">4000</text>
<text x="50.6" y="246.05">5000</text>
<text x="50.6" y="181.05">6000</text>
<text x="50.6" y="115.05">7000</text>
<text x="50.6" y="50.05">8000</text>
<text x="50.6" y="1150.7">0</text>
<text x="50.6" y="1083">25</text>
<text x="50.6" y="1015.7">50</text>
<text x="50.6" y="948.7">75</text>
<text x="50.6" y="880.7">100</text>
<text x="50.6" y="813.7">125</text>
<text x="50.6" y="745.7">150</text>
<text x="50.6" y="678.7">175</text>
<text x="50.6" y="610.7">200</text>
</g>
<g font-size="13.89" text-anchor="middle">
<text x="123" y="1166">Apr</text>
<text x="192" y="1166">May</text>
<text x="262" y="1166">Jun</text>
<text x="330" y="1166">Jul</text>
<text x="401" y="1166">Aug</text>
<text x="471" y="1166">Sep</text>
<text x="540" y="1166">Oct</text>
<text x="610" y="1166">Nov</text>
<text x="678" y="1166">Dec</text>
<text x="749" y="1166">Jan</text>
<text x="748.5" y="1182.2">2021</text>
</g>
<text x="397.6" y="35.9" font-size="16.67" text-anchor="middle">Connecticut 28 days</text>
<rect x="67.2" y="22.2" width="158.3" height="24.9" rx="2.8" ry="2.8" fill="#fff" fill-opacity="0.8" stroke="#ccc" stroke-opacity="0.8" stroke-width="1.11"/>
<line x1="72" y1="34" x2="99.78" y2="34" stroke="#1f77b4" stroke-width="2.08" stroke-linecap="square"/>
<text x="110.7" y="37.9" font-size="13.89">daily confirmed</text>
<rect x="355.6" y="599.4" width="134.9" height="24.9" rx="2.8" ry="2.8" fill="#fff" fill-opacity="0.8" stroke="#ccc" stroke-opacity="0.8" stroke-width="1.11"/>
<line x1="360.4" y1="610" x2="388.18" y2="610" stroke="#1f77b4" stroke-width="2.08" stroke-linecap="square"/>
<text x="399.1" y="615.1" font-size="13.89">daily deaths</text>
</svg></body></html>
